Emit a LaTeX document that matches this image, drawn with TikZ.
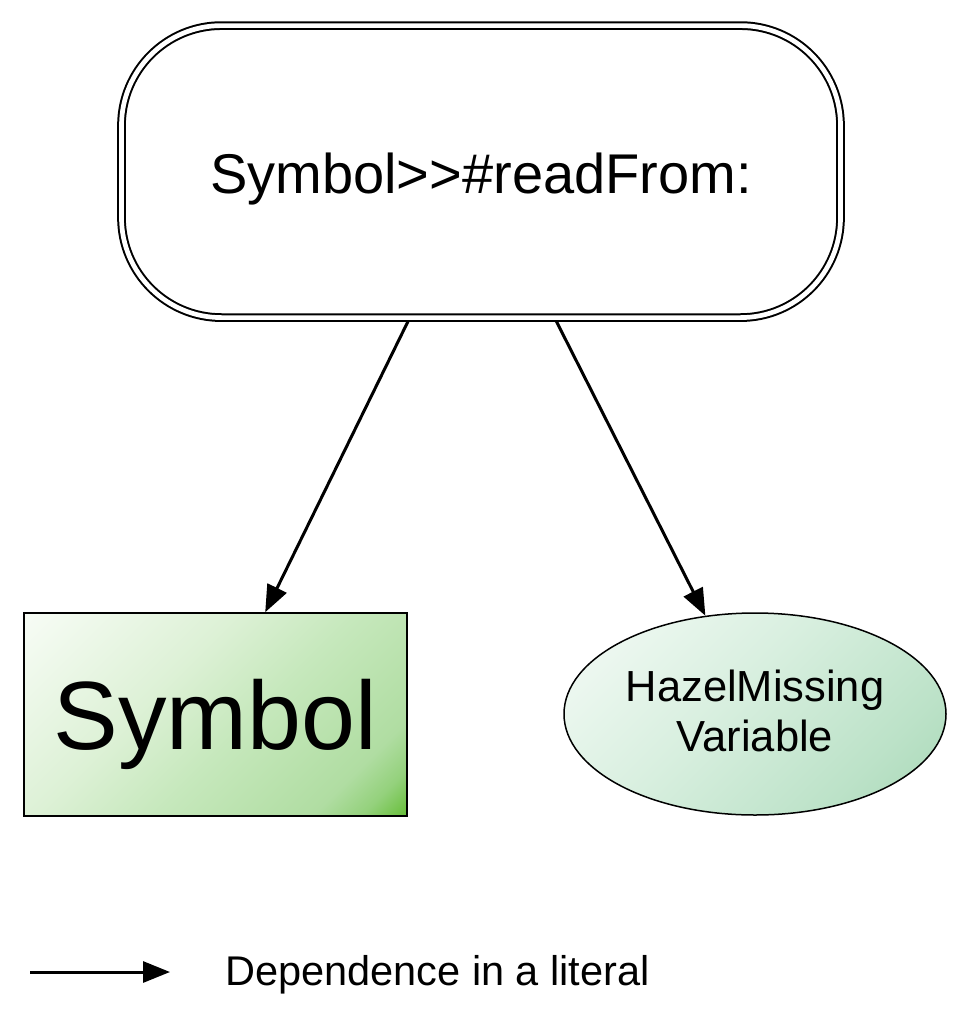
\documentclass[tikz,border=0pt]{standalone}
\usepackage{fontspec}
\setmainfont{Liberation Sans}
\usetikzlibrary{arrows.meta,shapes.geometric}
\definecolor{sA}{HTML}{F7FCF5}
\definecolor{sB}{HTML}{DDF1D6}
\definecolor{sC}{HTML}{C6E8BC}
\definecolor{sD}{HTML}{B0DDA2}
\definecolor{sE}{HTML}{94D17C}
\definecolor{sF}{HTML}{62BC32}
\definecolor{eA}{HTML}{F5FBF7}
\definecolor{eB}{HTML}{D8EFDF}
\definecolor{eC}{HTML}{BCE2C8}
\definecolor{eD}{HTML}{A6D7B5}
\pgfdeclarehorizontalshading{symshade}{100bp}{color(0bp)=(sA); color(15bp)=(sA); color(40bp)=(sB); color(55bp)=(sC); color(74bp)=(sD); color(80bp)=(sE); color(86bp)=(sF); color(100bp)=(sF)}
\pgfdeclarehorizontalshading{ellshade}{100bp}{color(0bp)=(eA); color(15bp)=(eA); color(45bp)=(eB); color(70bp)=(eC); color(86bp)=(eD); color(100bp)=(eD)}
\begin{document}
\begin{tikzpicture}[x=1pt,y=-1pt,
  edge/.style={line width=3pt,-{Triangle[length=27pt,width=21pt]}},
  method/.style={draw, line width=2pt, double, double distance=4.7pt, rounded corners=100pt, inner sep=0pt, outer sep=4pt},
  classbox/.style={draw, line width=1.5pt, rectangle, inner sep=0pt, shading=symshade, shading angle=-45},
  varbox/.style={draw, line width=1.5pt, ellipse, inner sep=0pt, shading=ellshade, shading angle=-45, align=center}]
\useasboundingbox (0,0) rectangle (969,1017);
\node[method, minimum width=719pt, minimum height=292pt, font=\fontsize{56}{60}\selectfont, text height=43.4pt, text depth=0pt] (top) at (481,171.6) {Symbol>{}>\#readFrom:};
\node[classbox, minimum width=383pt, minimum height=203pt, font=\fontsize{97}{100}\selectfont, text height=70.4pt, text depth=0pt] (sym) at (215.5,714.5) {Symbol};
\node[varbox, minimum width=382pt, minimum height=202pt, font=\fontsize{43.5}{50}\selectfont] (ell) at (755,714) {HazelMissing\\Variable\rule[-7.4pt]{0pt}{7.4pt}};
\draw[edge] (top) -- (sym);
\draw[edge] (top) -- (ell);
\coordinate (la) at (30,972);
\coordinate (lb) at (170,972);
\draw[edge] (la) -- (lb);
\node[anchor=base west, font=\fontsize{41.5}{44}\selectfont, inner sep=0pt] (leg) at (225,985) {Dependence in a literal};
\end{tikzpicture}
\end{document}
